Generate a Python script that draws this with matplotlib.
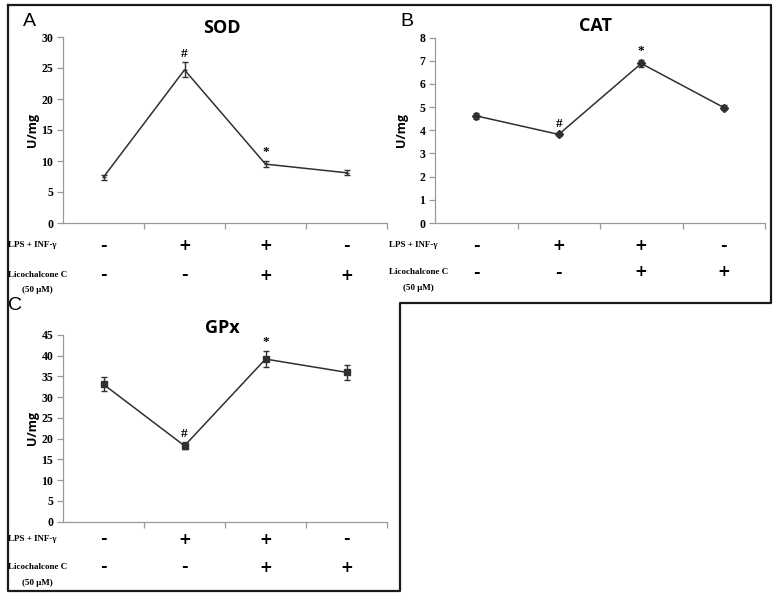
import matplotlib
matplotlib.use("Agg")
import matplotlib.pyplot as plt
from matplotlib.lines import Line2D
from matplotlib.transforms import blended_transform_factory

W, H = 780, 601

groups = [1, 2, 3, 4]
lps_signs = ["-", "+", "+", "-"]
lico_signs = ["-", "-", "+", "+"]

sod_mean = [7.4, 24.7, 9.5, 8.1]
sod_err = [0.4, 1.2, 0.5, 0.4]
sod_marks = ["", "#", "*", ""]

cat_mean = [4.62, 3.82, 6.88, 4.98]
cat_err = [0.12, 0.06, 0.15, 0.1]
cat_marks = ["", "#", "*", ""]

gpx_mean = [33.1, 18.3, 39.2, 36.0]
gpx_err = [1.7, 0.8, 1.9, 1.8]
gpx_marks = ["", "#", "*", ""]

row_labels = ["LPS + INF-\u03b3", "Licochalcone C", "(50 \u03bcM)"]

fig = plt.figure(figsize=(W / 100, H / 100), dpi=100)
fig.patch.set_facecolor("white")

def fx(px):
    return px / W

def fy(py):
    return 1 - py / H

serif_bold = dict(family="Liberation Serif", fontweight="bold")
axis_gray = "#9a9a9a"

def make_panel(left, right, top, bottom, ymax, ystep, mean, err, marks,
               title, letter, letter_xy, title_xy, ylab_x, rows_y, label_x,
               marker, msize, mark_off):
    ax = fig.add_axes([fx(left), fy(bottom), fx(right - left), (bottom - top) / H])
    ax.errorbar(groups, mean, yerr=err, color="#303030", lw=1.1,
                marker=marker, ms=msize, mfc="#303030", mec="#303030",
                ecolor="#303030", elinewidth=1.0, capsize=2.2, capthick=1.0)
    ax.set_xlim(0.5, 4.5)
    ax.set_ylim(0, ymax)
    yt = list(range(0, ymax + 1, ystep))
    ax.set_yticks(yt)
    ax.set_yticklabels([str(v) for v in yt], fontsize=8.5, **serif_bold)
    ax.set_xticks([1.5, 2.5, 3.5, 4.5])
    ax.set_xticklabels([])
    for s in ["top", "right"]:
        ax.spines[s].set_visible(False)
    for s in ["left", "bottom"]:
        ax.spines[s].set_color(axis_gray)
        ax.spines[s].set_linewidth(0.9)
    ax.tick_params(axis="both", direction="out", length=4, color=axis_gray,
                   width=0.9, pad=3)
    for xi, m, e, mk in zip(groups, mean, err, marks):
        if mk:
            ax.annotate(mk, (xi, m + e), xytext=(0, mark_off), textcoords="offset points",
                        ha="center", va="bottom", fontsize=9.5, **serif_bold)
    fig.text(fx(title_xy[0]), fy(title_xy[1]), title, ha="center", va="center",
             fontsize=13, family="Open Sans", fontweight="bold")
    fig.text(fx(letter_xy[0]), fy(letter_xy[1]), letter, ha="center", va="center",
             fontsize=14, family="Liberation Sans")
    fig.text(fx(ylab_x), fy((top + bottom) / 2), "U/mg", rotation=90, ha="center",
             va="center", fontsize=9, family="Open Sans", fontweight="bold")
    tr = blended_transform_factory(ax.transData, fig.transFigure)
    for xi, s1, s2 in zip(groups, lps_signs, lico_signs):
        for s, yy in ((s1, rows_y[0]), (s2, rows_y[1])):
            fs = 11 if s == "+" else 11.5
            ax.text(xi, fy(yy), s, transform=tr, ha="center", va="center",
                    fontsize=fs, family="DejaVu Sans", fontweight="bold")
    fig.text(fx(label_x), fy(rows_y[0]), row_labels[0], ha="left", va="center",
             fontsize=6.5, **serif_bold)
    fig.text(fx(label_x), fy(rows_y[1]), row_labels[1], ha="left", va="center",
             fontsize=6.5, **serif_bold)
    fig.text(fx(label_x + 14), fy(rows_y[2]), row_labels[2], ha="left", va="center",
             fontsize=6.5, **serif_bold)
    return ax

make_panel(63, 387, 37, 223, 30, 5, sod_mean, sod_err, sod_marks,
           "SOD", "A", (29, 22), (222, 28), 32, (245, 275, 290), 8,
           "_", 3, 2)
make_panel(435, 765, 37.5, 223, 8, 1, cat_mean, cat_err, cat_marks,
           "CAT", "B", (407, 22), (596, 26), 402, (245, 272, 288), 389,
           "D", 4, 2)
make_panel(63, 387, 335, 521.7, 45, 5, gpx_mean, gpx_err, gpx_marks,
           "GPx", "C", (15, 305), (222, 328), 32, (539, 567, 583), 8,
           "s", 4.5, 2)

# outer frames
lc = "#1a1a1a"
lw = 1.6
frame_pts = [(8, 5), (771, 5), (771, 303), (400, 303), (400, 591), (8, 591), (8, 5)]
xs = [fx(p[0]) for p in frame_pts]
ys = [fy(p[1]) for p in frame_pts]
fig.add_artist(Line2D(xs, ys, transform=fig.transFigure, color=lc, lw=lw))

fig.savefig("out.png", dpi=100, facecolor="white")
